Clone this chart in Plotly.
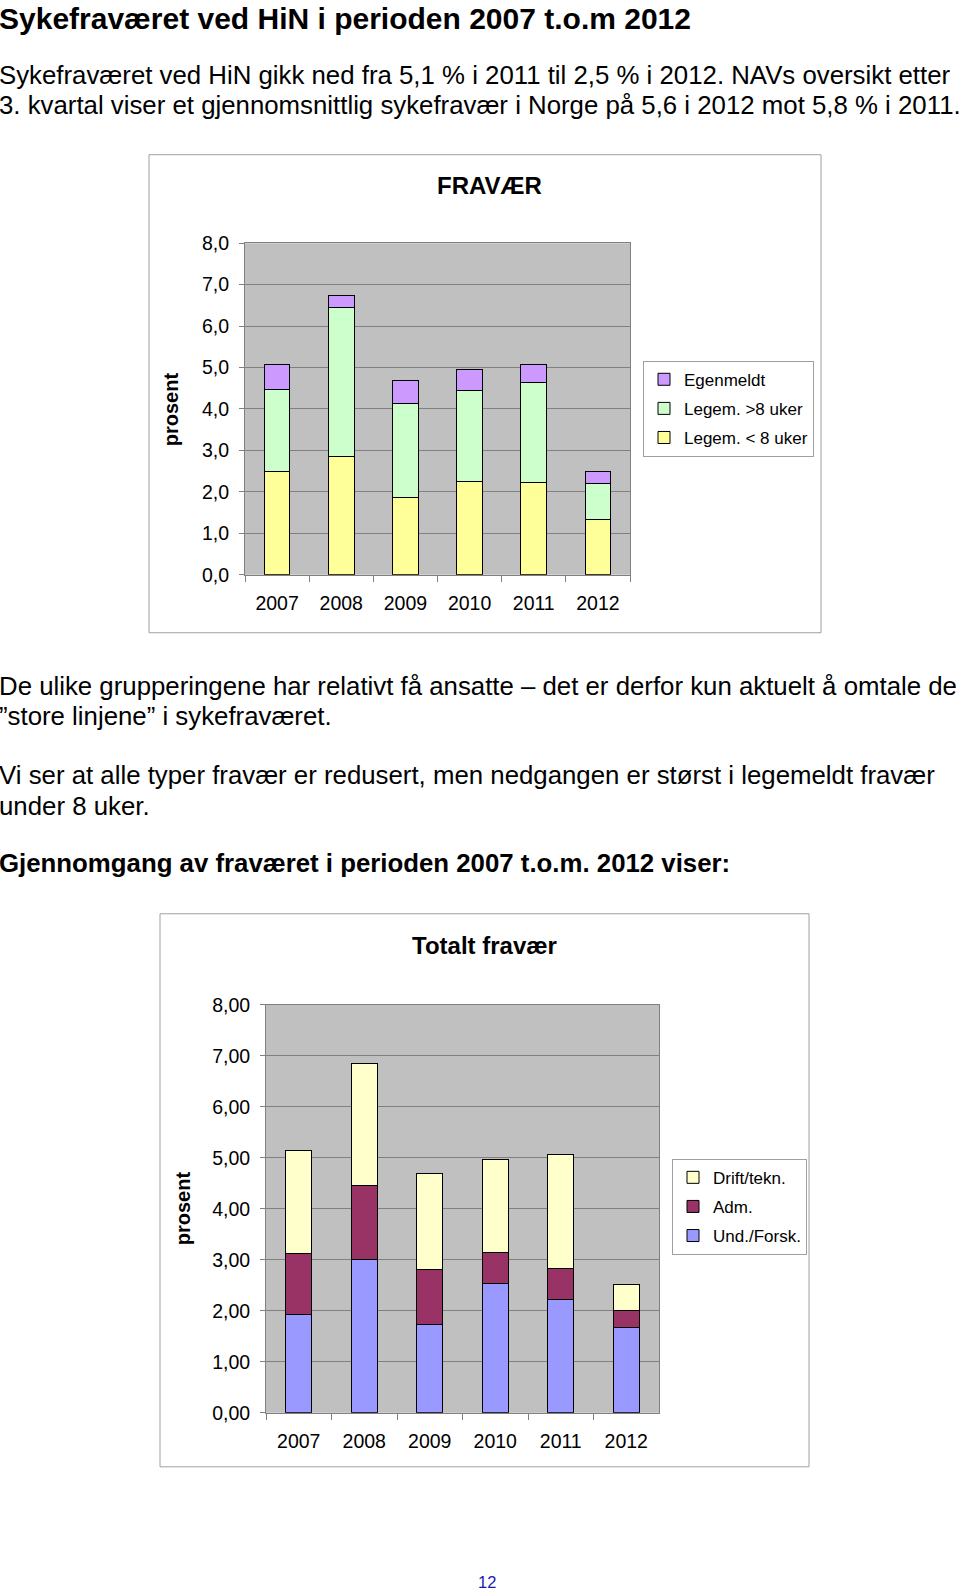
import plotly.graph_objects as go

W, H = 960, 1591
FONT = "Liberation Sans, Arial, sans-serif"

years = ["2007", "2008", "2009", "2010", "2011", "2012"]

# Chart 1: FRAVÆR
legem_under8 = [2.50, 2.85, 1.86, 2.25, 2.22, 1.33]
legem_over8 = [1.97, 3.60, 2.27, 2.19, 2.43, 0.86]
egenmeldt = [0.60, 0.30, 0.55, 0.52, 0.43, 0.30]

# Chart 2: Totalt fravær
und_forsk = [1.93, 3.00, 1.74, 2.54, 2.22, 1.67]
adm = [1.19, 1.45, 1.06, 0.60, 0.61, 0.33]
drift_tekn = [2.02, 2.40, 1.89, 1.82, 2.24, 0.52]

yticks = [0, 1, 2, 3, 4, 5, 6, 7, 8]


def px_x(x):
    return x / W


def px_y(y):
    # compensate for the vertical placement observed in the viewer
    yy = (y - 10.3) / 0.9861
    return 1 - yy / H


fig = go.Figure()

bar_line = dict(color="black", width=1)
s1 = [("Legem. < 8 uker", legem_under8, "#FFFF99", 3),
      ("Legem. >8 uker", legem_over8, "#CCFFCC", 2),
      ("Egenmeldt", egenmeldt, "#CC99FF", 1)]
for name, vals, col, rank in s1:
    fig.add_trace(go.Bar(x=years, y=vals, name=name, marker=dict(color=col, line=bar_line),
                         xaxis="x", yaxis="y", legend="legend", legendgroup="a" + str(rank),
                         legendrank=rank))

s2 = [("Und./Forsk.", und_forsk, "#9999FF", 3),
      ("Adm.", adm, "#993366", 2),
      ("Drift/tekn.", drift_tekn, "#FFFFCC", 1)]
for name, vals, col, rank in s2:
    fig.add_trace(go.Bar(x=years, y=vals, name=name, marker=dict(color=col, line=bar_line),
                         xaxis="x2", yaxis="y2", legend="legend2", legendgroup="b" + str(rank),
                         legendrank=rank))

tickfont = dict(family=FONT, size=19.5, color="black")
axcol = "#808080"


def xaxis(domain, anchor):
    return dict(domain=domain, anchor=anchor, type="category", tickson="boundaries",
                ticks="outside", ticklen=6, tickcolor=axcol, showline=True, linecolor=axcol,
                linewidth=1, mirror=True, tickfont=tickfont, ticklabelstandoff=11,
                showgrid=False, fixedrange=True)


def yaxis(domain, anchor, fmt):
    return dict(domain=domain, anchor=anchor, range=[0, 8], tickvals=yticks, tickformat=fmt,
                ticks="outside", ticklen=5, tickcolor=axcol, showline=True, linecolor=axcol,
                linewidth=1, mirror=True, showgrid=True, gridcolor="#808080", gridwidth=1,
                tickfont=tickfont, ticklabelstandoff=6, zeroline=False, fixedrange=True)


legfont = dict(family=FONT, size=17, color="black")

fig.update_layout(
    width=W, height=H, margin=dict(l=0, r=0, t=0, b=0),
    paper_bgcolor="white", plot_bgcolor="#C0C0C0",
    separators=",.", barmode="stack", bargap=0.6,
    font=dict(family=FONT, color="black"),
    xaxis=xaxis([px_x(245), px_x(630)], "y"),
    yaxis=yaxis([px_y(574), px_y(242.5)], "x", ".1f"),
    xaxis2=xaxis([px_x(266), px_x(659)], "y2"),
    yaxis2=yaxis([px_y(1412), px_y(1004)], "x2", ".2f"),
    legend=dict(x=px_x(643), y=px_y(360), xanchor="left", yanchor="top",
                bgcolor="white", bordercolor="#A0A0A0", borderwidth=1, font=legfont,
                traceorder="grouped", tracegroupgap=4),
    legend2=dict(x=px_x(672), y=px_y(1158), xanchor="left", yanchor="top",
                 bgcolor="white", bordercolor="#A0A0A0", borderwidth=1, font=legfont,
                 traceorder="grouped", tracegroupgap=4),
)

# chart frames
for x0, x1, y0, y1 in [(149, 821, 154, 632), (160, 809, 913, 1466)]:
    fig.add_shape(type="rect", xref="paper", yref="paper",
                  x0=px_x(x0), x1=px_x(x1), y0=px_y(y1), y1=px_y(y0),
                  line=dict(color="#A0A0A0", width=1), layer="below")


def text(t, x, y, size, bold=False, xanchor="left", angle=0, color="black"):
    if bold:
        t = "<b>" + t + "</b>"
    fig.add_annotation(text=t, x=px_x(x), y=px_y(y), xref="paper", yref="paper",
                       xanchor=xanchor, yanchor="middle", showarrow=False, textangle=angle,
                       font=dict(family=FONT, size=size, color=color))


BODY = 25.8
LX = -3
text("Sykefraværet ved HiN i perioden 2007 t.o.m 2012", LX, 17.5, 30, bold=True)
text("Sykefraværet ved HiN gikk ned fra 5,1 % i 2011 til 2,5 % i 2012. NAVs oversikt etter", LX, 74, BODY)
text("3. kvartal viser et gjennomsnittlig sykefravær i Norge på 5,6 i 2012 mot 5,8 % i 2011.", LX, 104.5, BODY)
text("De ulike grupperingene har relativt få ansatte – det er derfor kun aktuelt å omtale de", LX, 685, BODY)
text("”store linjene” i sykefraværet.", LX, 715.5, BODY)
text("Vi ser at alle typer fravær er redusert, men nedgangen er størst i legemeldt fravær", LX, 774, BODY)
text("under 8 uker.", LX, 805, BODY)
text("Gjennomgang av fraværet i perioden 2007 t.o.m. 2012 viser:", LX, 862.5, BODY, bold=True)

text("FRAVÆR", 489, 185, 24, bold=True, xanchor="center")
text("prosent", 170.5, 409, 20, bold=True, xanchor="center", angle=-90)
text("Totalt fravær", 484, 945, 24, bold=True, xanchor="center")
text("prosent", 183, 1207.5, 20, bold=True, xanchor="center", angle=-90)

text("12", 487, 1581, 16.5, xanchor="center", color="#1A1AB0")

fig.write_html("out.html")
